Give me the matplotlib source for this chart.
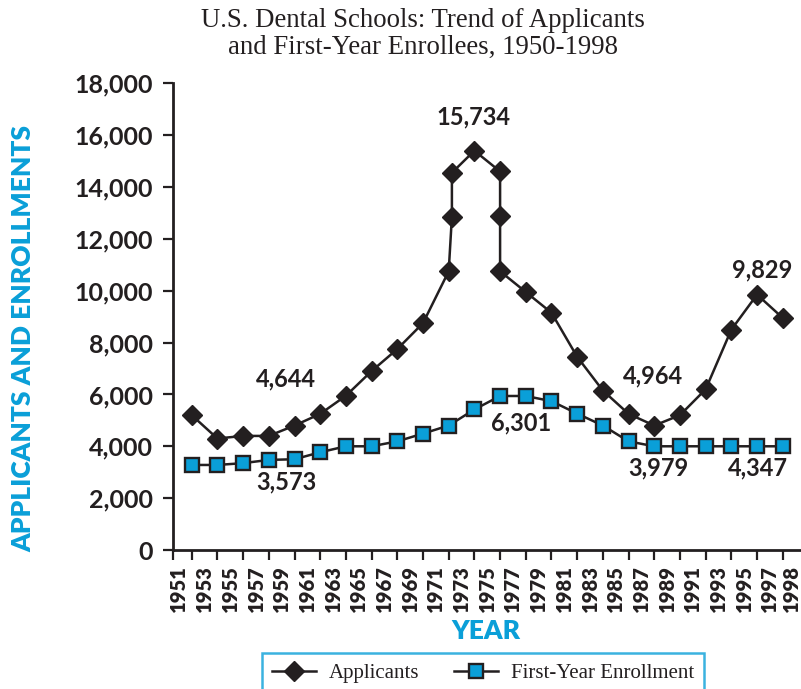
import matplotlib
matplotlib.use("Agg")
import matplotlib.pyplot as plt
from matplotlib.lines import Line2D
import numpy as np

# ---- data ----
app_years = [1952, 1954, 1956, 1958, 1960, 1962, 1964, 1966, 1968, 1970, 1972,
             1972.25, 1972.25, 1974, 1976, 1976, 1976, 1978, 1980, 1982, 1984,
             1986, 1988, 1990, 1992, 1994, 1996, 1998]
applicants = [5200, 4300, 4400, 4400, 4800, 5250, 5950, 6900, 7750, 8750, 10750,
              12850, 14550, 15400, 14600, 12900, 10750, 9950, 9150, 7450, 6150,
              5250, 4800, 5200, 6200, 8500, 9850, 8950]

enr_years = [1952, 1954, 1956, 1958, 1960, 1962, 1964, 1966, 1968, 1970, 1972, 1974,
             1976, 1978, 1980, 1982, 1984, 1986, 1988, 1990, 1992, 1994, 1996, 1998]
enrollment = [3280, 3280, 3350, 3475, 3500, 3770, 4000, 4000, 4190, 4490, 4800, 5420,
              5940, 5940, 5740, 5260, 4800, 4190, 4000, 4000, 4000, 4000, 4000, 4000]

year_labels = ["1951", "1953", "1955", "1957", "1959", "1961", "1963", "1965",
               "1967", "1969", "1971", "1973", "1975", "1977", "1979", "1981",
               "1983", "1985", "1987", "1989", "1991", "1993", "1995", "1997", "1998"]
y_ticks = [0, 2000, 4000, 6000, 8000, 10000, 12000, 14000, 16000, 18000]

annotations = [("15,734", 1973.9, 16700), ("4,644", 1959.3, 6600),
               ("3,573", 1959.4, 2630), ("6,301", 1977.6, 4890),
               ("4,964", 1987.9, 6710), ("3,979", 1988.3, 3150),
               ("4,347", 1996.1, 3150), ("9,829", 1996.4, 10800)]

title = "U.S. Dental Schools: Trend of Applicants\nand First-Year Enrollees, 1950-1998"

# ---- style ----
DARK = "#231f20"
BLUE = "#0a9fd8"
SANS = ["Lato", "DejaVu Sans"]
SERIF = ["Liberation Serif", "DejaVu Serif"]

W, H = 801, 689
fig = plt.figure(figsize=(W / 100, H / 100), dpi=100)
ax_left, ax_bottom_px, ax_top_px = 172.7, 550, 83.3
ax = fig.add_axes([ax_left / W, 1 - ax_bottom_px / H, (W - ax_left) / W,
                   (ax_bottom_px - ax_top_px) / H])

x_min, x_max = 1950.52, 1999.42
ax.set_xlim(x_min, x_max)
ax.set_ylim(0, 18000)

ax.plot(app_years, applicants, color=DARK, lw=1.8, marker="D", ms=10,
        mfc=DARK, mec=DARK, zorder=4, clip_on=False, label="Applicants")
ax.plot(enr_years, enrollment, color=DARK, lw=1.8, marker="s", ms=9.5,
        mfc=BLUE, mec=DARK, mew=1.7, zorder=3, clip_on=False,
        label="First-Year Enrollment")

for s in ["top", "right"]:
    ax.spines[s].set_visible(False)
for s in ["left", "bottom"]:
    ax.spines[s].set_linewidth(2.0)
    ax.spines[s].set_color(DARK)

# x ticks: marks at even years, labels at odd years
major_x = [x_min] + list(range(1952, 1999, 2))
ax.set_xticks(major_x)
ax.set_xticklabels([])
label_pos = [1951 + 2 * i for i in range(24)] + [1998.7]
ax.set_xticks(label_pos, minor=True)
ax.set_xticklabels(year_labels, minor=True, rotation=90, fontsize=14.5,
                   fontweight="heavy", family=SANS, color=DARK, va="top")
ax.tick_params(axis="x", which="major", length=7.5, width=1.6, color=DARK,
               direction="out")
ax.tick_params(axis="x", which="minor", length=0, pad=11)

ax.set_yticks(y_ticks)
ax.set_yticklabels([f"{v:,}" for v in y_ticks], fontsize=18,
                   fontweight="bold", family=SANS, color=DARK)
ax.tick_params(axis="y", length=7.5, width=1.6, color=DARK, pad=7)

for txt, x, y in annotations:
    ax.text(x, y, txt, ha="center", va="center", fontsize=17,
            fontweight="bold", family=SANS, color=DARK)

fig.text(423 / W, 1 - 34 / H, title, ha="center", va="center", fontsize=19.3,
         family=SERIF, color=DARK, linespacing=1.08)

fig.text(23 / W, 1 - 339 / H, "APPLICANTS AND ENROLLMENTS", rotation=90,
         ha="center", va="center", fontsize=19, fontweight="heavy",
         family=SANS, color=BLUE)
fig.text(486 / W, 1 - 631 / H, "YEAR", ha="center", va="center",
         fontsize=19, fontweight="heavy", family=SANS, color=BLUE)

handles = [Line2D([], [], color=DARK, lw=1.8, marker="D", ms=10, mfc=DARK,
                  mec=DARK),
           Line2D([], [], color=DARK, lw=1.8, marker="s", ms=9.5, mfc=BLUE,
                  mec=DARK, mew=1.7)]
leg = fig.legend(handles, ["Applicants", "First-Year Enrollment"],
                 loc="upper center", bbox_to_anchor=(483 / W, 1 - 653 / H),
                 ncol=2, frameon=True, fancybox=False, prop={"family": SERIF,
                                                             "size": 15},
                 handlelength=2.1, handletextpad=0.6, columnspacing=1.7,
                 borderpad=0.5, borderaxespad=0)
leg.get_frame().set_edgecolor(BLUE)
leg.get_frame().set_linewidth(1.8)
for t in leg.get_texts():
    t.set_color(DARK)

fig.savefig("out.png", dpi=100)
